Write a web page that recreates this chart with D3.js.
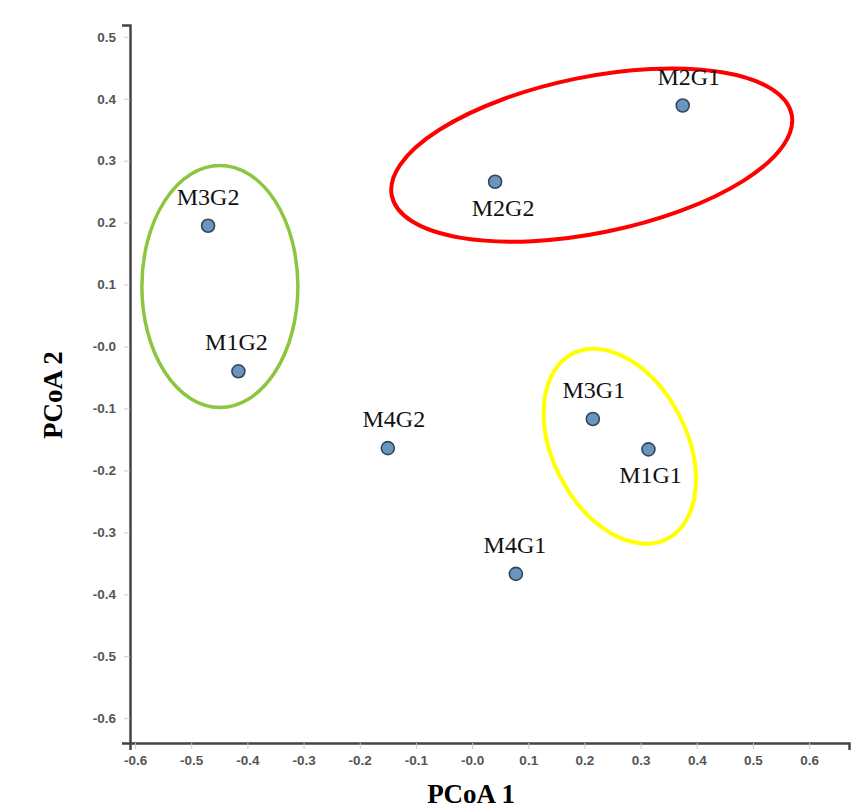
<!DOCTYPE html>
<html>
<head>
<meta charset="utf-8">
<script src="https://cdn.jsdelivr.net/npm/d3@7"></script>
<style>
  body { margin: 0; background: #fff; }
  svg { display: block; }
</style>
</head>
<body>
<div id="container"></div>
<script>
//******************** DATA ********************//
const samples = ["M2G1", "M2G2", "M3G2", "M1G2", "M4G2", "M3G1", "M1G1", "M4G1"];
const pcoa1 = [0.375, 0.041, -0.470, -0.416, -0.150, 0.215, 0.314, 0.078];
const pcoa2 = [0.389, 0.266, 0.195, -0.040, -0.164, -0.117, -0.166, -0.367];

const xTicks = [-0.6, -0.5, -0.4, -0.3, -0.2, -0.1, 0, 0.1, 0.2, 0.3, 0.4, 0.5, 0.6];
const xTickLabels = ["-0.6", "-0.5", "-0.4", "-0.3", "-0.2", "-0.1", "-0.0", "0.1", "0.2", "0.3", "0.4", "0.5", "0.6"];
const yTicks = [0.5, 0.4, 0.3, 0.2, 0.1, 0, -0.1, -0.2, -0.3, -0.4, -0.5, -0.6];
const yTickLabels = ["0.5", "0.4", "0.3", "0.2", "0.1", "-0.0", "-0.1", "-0.2", "-0.3", "-0.4", "-0.5", "-0.6"];

// group ellipses (centre in data units)
const groupNames = ["red", "green", "yellow"];
const groupCx = [0.213, -0.449, 0.263];
const groupCy = [0.309, 0.097, -0.161];

//******************** LAYOUT ********************//
const width = 863;
const height = 811;

// label placement per sample (above / below the dot)
const labelLayout = {
  M2G1: {pos: "above", dx: 6}, M2G2: {pos: "below", dx: 8},
  M3G2: {pos: "above", dx: 0}, M1G2: {pos: "above", dx: -2},
  M4G2: {pos: "above", dx: 6}, M3G1: {pos: "above", dx: 1},
  M1G1: {pos: "below", dx: 2}, M4G1: {pos: "above", dx: -1}
};
const ellipseStyle = {
  red:    {rx: 204, ry: 78,  rot: -11.5, color: "#ff0000", w: 4},
  green:  {rx: 78,  ry: 121, rot: 0,     color: "#8cc63f", w: 3.5},
  yellow: {rx: 67,  ry: 104, rot: -27,   color: "#ffff00", w: 4}
};

const svg = d3.select("div#container")
  .append("svg")
  .attr("width", width)
  .attr("height", height);

svg.append("rect").attr("width", width).attr("height", height).attr("fill", "#fff");

//---------- SCALES ----------//
const xScale = d3.scaleLinear().domain([-0.609, 0.671]).range([130, 849]);
const yScale = d3.scaleLinear().domain([-0.640, 0.519]).range([743, 25]);

//---------- AXES ----------//
const xAxis = d3.axisBottom(xScale)
  .tickValues(xTicks)
  .tickFormat((d, i) => xTickLabels[i])
  .tickSizeInner(6).tickSizeOuter(7).tickPadding(6);
const yAxis = d3.axisLeft(yScale)
  .tickValues(yTicks)
  .tickFormat((d, i) => yTickLabels[i])
  .tickSizeInner(6).tickSizeOuter(8).tickPadding(8);

function styleAxis(g) {
  g.select(".domain").attr("stroke", "#444").attr("stroke-width", 2.5);
  g.selectAll(".tick line").attr("stroke", "#ccc");
  g.selectAll(".tick text")
    .attr("fill", "#555")
    .style("font-family", "'Liberation Sans', Arial, sans-serif")
    .style("font-size", "13.5px")
    .style("font-weight", "bold");
}

svg.append("g")
  .attr("transform", `translate(0,${yScale.range()[0]})`)
  .call(xAxis)
  .call(styleAxis);
svg.append("g")
  .attr("transform", `translate(${xScale.range()[0]},0)`)
  .call(yAxis)
  .call(styleAxis);

//---------- AXIS TITLES ----------//
svg.append("text")
  .attr("x", 471).attr("y", 803)
  .attr("text-anchor", "middle")
  .style("font-family", "'Liberation Serif', 'Times New Roman', serif")
  .style("font-size", "27px").style("font-weight", "bold")
  .text("PCoA 1");
svg.append("text")
  .attr("transform", "translate(62,395) rotate(-90)")
  .attr("text-anchor", "middle")
  .style("font-family", "'Liberation Serif', 'Times New Roman', serif")
  .style("font-size", "27px").style("font-weight", "bold")
  .text("PCoA 2");

//******************** DRAWING ********************//
//---------- ELLIPSES ----------//
svg.selectAll(".group")
  .data(groupNames)
  .join("ellipse")
  .attr("class", "group")
  .attr("cx", 0).attr("cy", 0)
  .attr("rx", d => ellipseStyle[d].rx)
  .attr("ry", d => ellipseStyle[d].ry)
  .attr("transform", (d, i) => `translate(${xScale(groupCx[i])},${yScale(groupCy[i])}) rotate(${ellipseStyle[d].rot})`)
  .attr("fill", "none")
  .attr("stroke", d => ellipseStyle[d].color)
  .attr("stroke-width", d => ellipseStyle[d].w);

//---------- POINTS ----------//
const points = samples.map((s, i) => ({name: s, x: pcoa1[i], y: pcoa2[i]}));

svg.selectAll(".dot")
  .data(points)
  .join("circle")
  .attr("class", "dot")
  .attr("cx", d => xScale(d.x))
  .attr("cy", d => yScale(d.y))
  .attr("r", 6.5)
  .attr("fill", "#6b95bf")
  .attr("stroke", "#33475c")
  .attr("stroke-width", 1.6);

svg.selectAll(".lbl")
  .data(points)
  .join("text")
  .attr("class", "lbl")
  .attr("x", d => xScale(d.x) + labelLayout[d.name].dx)
  .attr("y", d => yScale(d.y) + (labelLayout[d.name].pos === "above" ? -21 : 34))
  .attr("text-anchor", "middle")
  .style("font-family", "'Liberation Serif', 'Times New Roman', serif")
  .style("font-size", "24px")
  .attr("fill", "#111")
  .text(d => d.name);
</script>
</body>
</html>
